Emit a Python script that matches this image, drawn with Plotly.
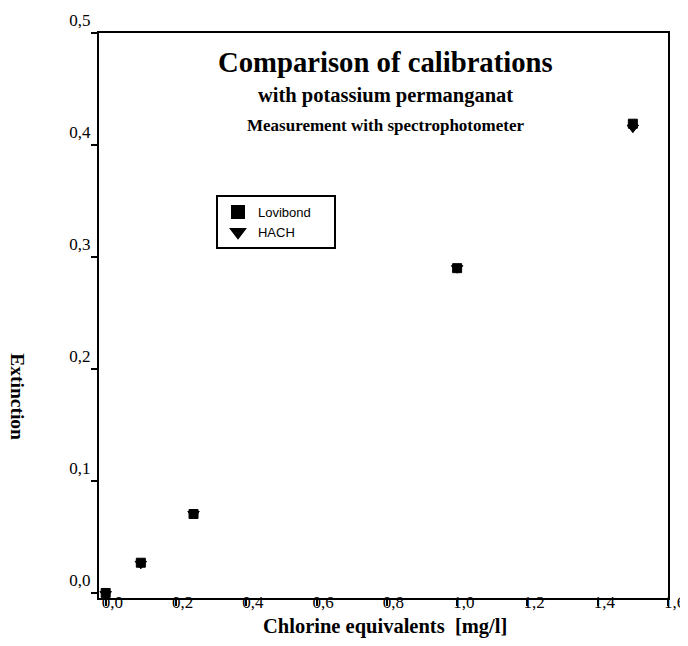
import plotly.graph_objects as go

# Data
chlorine = [0.0, 0.1, 0.25, 1.0, 1.5]           # mg/l
lovibond = [0.000, 0.027, 0.0705, 0.290, 0.419]  # extinction (squares)
hach = [-0.001, 0.026, 0.0705, 0.290, 0.4155]    # extinction (triangles)

x_ticks = [0.0, 0.2, 0.4, 0.6, 0.8, 1.0, 1.2, 1.4, 1.6]
y_ticks = [0.0, 0.1, 0.2, 0.3, 0.4, 0.5]

serif = "Liberation Serif"
sans = "Liberation Sans"

pad = "\u00a0" * 5

fig = go.Figure()
fig.add_trace(go.Scatter(
    x=chlorine, y=lovibond, mode="markers", name="Lovibond" + pad,
    marker=dict(symbol="square", size=9, color="black",
                line=dict(color="black", width=1)),
))
fig.add_trace(go.Scatter(
    x=chlorine, y=hach, mode="markers", name="HACH",
    marker=dict(symbol="triangle-down", size=10, color="black",
                line=dict(color="black", width=1)),
))

fig.update_layout(
    width=680, height=630,
    margin=dict(l=91, r=20, t=25, b=40, autoexpand=False),
    paper_bgcolor="white", plot_bgcolor="white",
    separators=",.",
    font=dict(family=serif, size=17, color="black"),
    showlegend=True,
    legend=dict(
        x=0.2056, y=0.713, xanchor="left", yanchor="top",
        bordercolor="black", borderwidth=2, bgcolor="white",
        font=dict(family=sans, size=13, color="black"),
        itemsizing="constant",
        tracegroupgap=0,
    ),
    xaxis=dict(
        range=[-0.019, 1.6], tickvals=x_ticks, tickformat=".1f",
        showgrid=False, zeroline=False,
        showline=True, linecolor="black", linewidth=2, mirror=True,
        ticks="outside", ticklen=6, tickwidth=2, tickcolor="black",
        ticklabelposition="outside right", ticklabelstandoff=-12,
        ticklabelshift=-6, ticklabeloverflow="allow",
        tickfont=dict(family=serif, size=17, color="black"),
    ),
    yaxis=dict(
        range=[-0.0045, 0.5], tickvals=y_ticks, tickformat=".1f",
        showgrid=False, zeroline=False,
        showline=True, linecolor="black", linewidth=2, mirror=True,
        ticks="outside", ticklen=6, tickwidth=2, tickcolor="black",
        ticklabelposition="outside top", ticklabelstandoff=3,
        ticklabeloverflow="allow",
        tickfont=dict(family=serif, size=17, color="black"),
    ),
)

annos = [
    dict(text="<b>Comparison of calibrations</b>", y=0.949, size=28.7),
    dict(text="<b>with potassium permanganat</b>", y=0.889, size=20.5),
    dict(text="<b>Measurement with spectrophotometer</b>", y=0.837, size=17),
]
for a in annos:
    fig.add_annotation(text=a["text"], x=0.503, y=a["y"], xref="paper", yref="paper",
                       showarrow=False, xanchor="center", yanchor="middle",
                       font=dict(family=serif, size=a["size"], color="black"))

fig.add_annotation(text="<b>Chlorine equivalents\u00a0\u00a0[mg/l]</b>", x=0.503, y=-0.051,
                   xref="paper", yref="paper", showarrow=False,
                   xanchor="center", yanchor="middle",
                   font=dict(family=serif, size=20.5, color="black"))
fig.add_annotation(text="<b>Extinction</b>", x=-0.143, y=0.356,
                   xref="paper", yref="paper", showarrow=False, textangle=90,
                   xanchor="center", yanchor="middle",
                   font=dict(family=serif, size=19.5, color="black"))

fig.write_html("out.html")
